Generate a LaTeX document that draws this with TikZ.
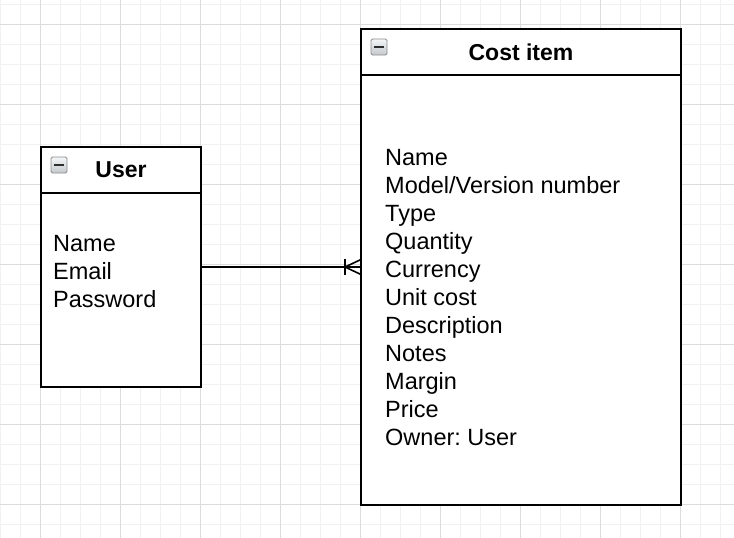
\documentclass[tikz,border=0pt]{standalone}
\usepackage{fontspec}
\setmainfont{Liberation Sans}
\frenchspacing
\definecolor{gridmajor}{HTML}{DCDCDC}
\definecolor{gridminor}{HTML}{F1F1F1}
\definecolor{iconborder}{HTML}{8C8C8C}
\definecolor{icontop}{HTML}{F4F6F8}
\definecolor{iconbot}{HTML}{C4C8CC}
\definecolor{iconbar}{HTML}{2E2E2E}
\begin{document}
\begin{tikzpicture}[x=1pt,y=-1pt,
  box/.style={draw=black, line width=2pt, fill=white, inner sep=0pt, outer sep=0pt, anchor=north west},
  headtext/.style={font=\fontsize{23}{28}\selectfont\bfseries},
  attr/.style={font=\fontsize{23.5}{28}\selectfont\frenchspacing, anchor=base west, inner sep=0pt},
  link/.style={draw=black, line width=1.6pt},
  icon/.style={draw=iconborder, line width=0.8pt, top color=icontop, bottom color=iconbot, rounded corners=1.5pt}
]
\useasboundingbox (0,0) rectangle (734,538);
\fill[white] (0,0) rectangle (734,538);
% grid
\foreach \gx in {0,20,...,720} \draw[gridminor, line width=1pt] (\gx,0) -- (\gx,538);
\foreach \gy in {4,24,...,524} \draw[gridminor, line width=1pt] (0,\gy) -- (734,\gy);
\foreach \gx in {40,120,...,680} \draw[gridmajor, line width=1pt] (\gx,0) -- (\gx,538);
\foreach \gy in {24,104,...,504} \draw[gridmajor, line width=1pt] (0,\gy) -- (734,\gy);

% User entity
\node[box, minimum width=160pt, minimum height=46pt, headtext] (userhead) at (41,147) {User};
\node[box, minimum width=160pt, minimum height=194pt, anchor=north] (userbody) at (userhead.south) {};
\draw[icon] ([xshift=10pt,yshift=-10pt]userhead.north west) rectangle ++(16,16);
\fill[iconbar] ([xshift=13pt,yshift=-16.8pt]userhead.north west) rectangle ++(10,2.6);
\node[attr] (ua1) at (53,251) {Name};
\node[attr] (ua2) at (53,279) {Email};
\node[attr] (ua3) at (53,307) {Password};

% Cost item entity
\node[box, minimum width=320pt, minimum height=46pt, headtext] (costhead) at (361,29) {Cost item};
\node[box, minimum width=320pt, minimum height=430pt, anchor=north] (costbody) at (costhead.south) {};
\draw[icon] ([xshift=10pt,yshift=-10pt]costhead.north west) rectangle ++(16,16);
\fill[iconbar] ([xshift=13pt,yshift=-16.8pt]costhead.north west) rectangle ++(10,2.6);
\foreach \t [count=\i from 0] in {Name,Model/Version number,Type,Quantity,Currency,Unit cost,Description,Notes,Margin,Price,Owner: User}
  \node[attr] (ca\i) at (385,165+28*\i) {\t};

% relationship: one User to many Cost items
\coordinate (ustart) at ([yshift=23pt]userbody.east);
\coordinate (cend) at (ustart -| costbody.west);
\draw[link] (ustart) -- (cend);
\draw[link] ([xshift=-16pt]cend) -- ++(16,-7.5);
\draw[link] ([xshift=-16pt]cend) -- ++(16,7.5);
\draw[link] ([xshift=-16pt,yshift=8pt]cend) -- ++(0,16);
\end{tikzpicture}
\end{document}
